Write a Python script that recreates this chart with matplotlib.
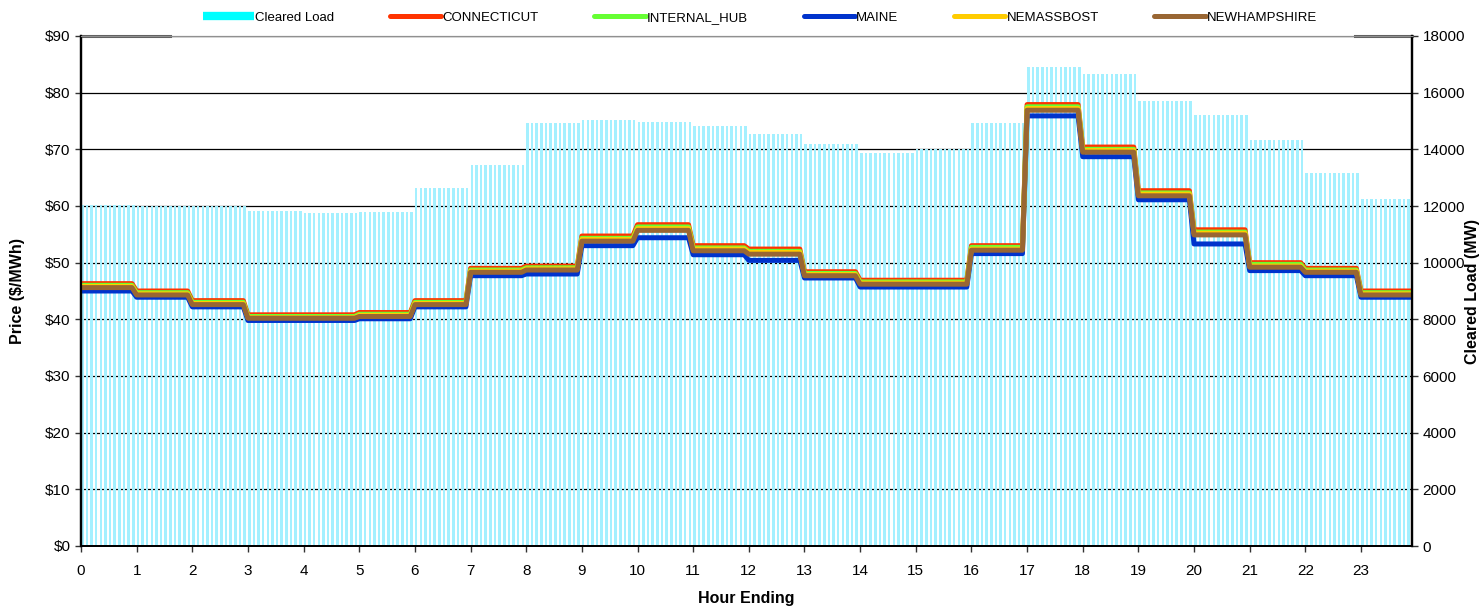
import numpy as np
import matplotlib
matplotlib.use("Agg")
import matplotlib.pyplot as plt
from matplotlib.lines import Line2D

plt.rcParams["font.family"] = ["Liberation Sans", "DejaVu Sans"]

# hourly values (each hour shown as 12 five-minute intervals)
hours = list(range(24))
cleared_load = [12030, 12010, 12000, 11820, 11770, 11790, 12640, 13440,
                14920, 15020, 14960, 14820, 14540, 14190, 13860, 14000,
                14940, 16920, 16660, 15700, 15200, 14330, 13150, 12250]

connecticut = [46.3, 45.0, 43.3, 40.8, 40.8, 41.2, 43.3, 49.0, 49.4, 54.7, 56.7, 53.0,
               52.4, 48.4, 46.9, 46.9, 53.0, 77.9, 70.4, 62.7, 55.8, 50.0, 49.0, 45.0]
internal_hub = [46.0, 44.7, 43.0, 40.5, 40.5, 40.9, 43.0, 48.7, 49.1, 54.3, 56.3, 52.6,
                52.0, 48.1, 46.6, 46.6, 52.7, 77.5, 70.0, 62.3, 55.4, 49.7, 48.7, 44.7]
maine = [45.0, 43.9, 42.2, 39.8, 39.8, 40.1, 42.2, 47.7, 48.0, 53.0, 54.4, 51.4,
         50.4, 47.3, 45.7, 45.7, 51.6, 75.9, 68.7, 61.1, 53.3, 48.6, 47.7, 43.9]
nemassbost = [45.8, 44.5, 42.8, 40.3, 40.3, 40.7, 42.8, 48.5, 48.9, 54.1, 56.0, 52.4,
              51.8, 47.9, 46.4, 46.4, 52.4, 77.2, 69.8, 62.1, 55.2, 49.4, 48.5, 44.5]
newhampshire = [45.6, 44.3, 42.6, 40.2, 40.2, 40.5, 42.6, 48.3, 48.7, 53.8, 55.7, 52.1,
                51.5, 47.7, 46.2, 46.2, 52.2, 76.9, 69.5, 61.8, 54.9, 49.2, 48.3, 44.3]

zones = {
    "CONNECTICUT": (connecticut, "#FF3300"),
    "INTERNAL_HUB": (internal_hub, "#66FF33"),
    "MAINE": (maine, "#0033CC"),
    "NEMASSBOST": (nemassbost, "#FFCC00"),
    "NEWHAMPSHIRE": (newhampshire, "#996633"),
}

steps = 12
x = np.arange(len(hours) * steps) / steps

fig = plt.figure(figsize=(14.84, 6.11), dpi=100)
ax = fig.add_axes([81 / 1484, 1 - 546 / 611, 1331 / 1484, 510 / 611])
ax2 = ax.twinx()
ax.set_zorder(ax2.get_zorder() + 1)
ax.patch.set_visible(False)

# load bars on the right axis
ax2.bar(x, np.repeat(cleared_load, steps), width=0.55 / steps, align="edge",
        color="#A4F0FF", linewidth=0, zorder=2)
ax2.set_ylim(0, 18000)
ax2.set_yticks(range(0, 18001, 2000))
ax2.set_axisbelow(True)
ax2.grid(axis="y", color="black", linewidth=0.9, zorder=0)

for name, (vals, col) in zones.items():
    ax.plot(x, np.repeat(vals, steps), color=col, linewidth=3.6,
            solid_capstyle="round", solid_joinstyle="round", label=name)

ax.set_xlim(0, x[-1])
ax.set_ylim(0, 90)
ax.set_xticks(hours)
ax.set_yticks(range(0, 91, 10))
ax.set_yticklabels([f"${v}" for v in range(0, 91, 10)])

for a in (ax, ax2):
    a.tick_params(labelsize=11, length=4, width=1, direction="out", color="#333333")
    a.spines["top"].set_color("#909090")
    a.spines["left"].set_linewidth(1.6)
    a.spines["right"].set_linewidth(1.6)
    a.spines["bottom"].set_linewidth(1.4)
ax.tick_params(axis="x", pad=9)

# darker bits of the top edge at both ends
ax.plot([0, 0.067], [1, 1], transform=ax.transAxes, color="#606060", lw=2.2, clip_on=False)
ax.plot([0.957, 1], [1, 1], transform=ax.transAxes, color="#606060", lw=2.2, clip_on=False)

ax.set_ylabel("Price ($/MWh)", fontsize=11.5, fontweight="bold")
ax.yaxis.set_label_coords(-0.042, 0.5)
ax.set_xlabel("Hour Ending", fontsize=11.5, fontweight="bold")
ax.xaxis.set_label_coords(0.5, -0.088)
ax2.set_ylabel("Cleared Load (MW)", fontsize=11.5, fontweight="bold")
ax2.yaxis.set_label_coords(1.040, 0.5)

handles = [Line2D([], [], color="#00FFFF", lw=6, solid_capstyle="butt")]
labels = ["Cleared Load"]
for name, (vals, col) in zones.items():
    handles.append(Line2D([], [], color=col, lw=3.6, solid_capstyle="round"))
    labels.append(name)
fig.legend(handles, labels, ncol=6, loc="center", bbox_to_anchor=(760 / 1484, 1 - 18 / 611),
           frameon=False, fontsize=9.5, handlelength=3.9, handletextpad=0.1,
           columnspacing=4.2)

fig.savefig("out.png", dpi=100)
